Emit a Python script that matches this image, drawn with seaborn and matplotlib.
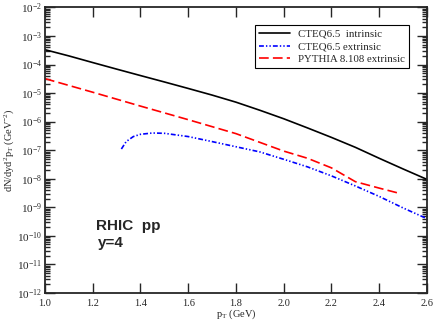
import matplotlib
matplotlib.use("Agg")
import matplotlib.pyplot as plt
import seaborn as sns
from matplotlib.ticker import LogLocator, NullLocator, FixedLocator, FormatStrFormatter

# values
pt_int = [1.0, 1.1, 1.2, 1.3, 1.4, 1.5, 1.6, 1.7, 1.8, 1.9, 2.0, 2.1, 2.2, 2.3, 2.4, 2.5, 2.6]
cteq_int = [3.3e-4, 2.0e-4, 1.17e-4, 6.9e-5, 4.1e-5, 2.45e-5, 1.45e-5, 8.5e-6, 4.8e-6,
            2.5e-6, 1.26e-6, 6.0e-7, 2.8e-7, 1.26e-7, 5.2e-8, 2.2e-8, 9.5e-9]

pt_ext = [1.32, 1.34, 1.37, 1.40, 1.45, 1.50, 1.60, 1.70, 1.80, 1.90, 2.00, 2.10, 2.20,
          2.30, 2.40, 2.50, 2.60]
cteq_ext = [1.1e-7, 2.0e-7, 3.0e-7, 3.6e-7, 4.0e-7, 3.9e-7, 3.0e-7, 2.0e-7, 1.32e-7,
            8.7e-8, 4.8e-8, 2.6e-8, 1.26e-8, 5.6e-9, 2.4e-9, 9.5e-10, 4.0e-10]

pt_py = [1.0, 1.2, 1.4, 1.6, 1.8, 2.0, 2.1, 2.2, 2.3, 2.4, 2.49]
pythia = [3.2e-5, 1.07e-5, 3.5e-6, 1.17e-6, 3.8e-7, 9.3e-8, 5.2e-8, 2.4e-8, 7.9e-9, 4.7e-9, 3.0e-9]

labels = ["CTEQ6.5  intrinsic", "CTEQ6.5 extrinsic", "PYTHIA 8.108 extrinsic"]
xticks = [1.0, 1.2, 1.4, 1.6, 1.8, 2.0, 2.2, 2.4, 2.6]

sns.set_style("ticks")
plt.rcParams["font.family"] = ["Liberation Serif", "DejaVu Serif"]
plt.rcParams["mathtext.fontset"] = "custom"
plt.rcParams["mathtext.rm"] = "Liberation Serif"
plt.rcParams["mathtext.it"] = "Liberation Serif:italic"
plt.rcParams["lines.scale_dashes"] = False

fig, ax = plt.subplots(figsize=(4.35, 3.21), dpi=100)
fig.subplots_adjust(left=0.1034, right=0.9816, bottom=0.0872, top=0.977)

sns.lineplot(x=pt_int, y=cteq_int, color="black", linewidth=1.2, ax=ax, label=labels[0])
sns.lineplot(x=pt_ext, y=cteq_ext, color="blue", linewidth=1.2, ax=ax, label=labels[1],
             linestyle=(0, (3.5, 1.5, 1, 1.5, 1, 1.5)))
sns.lineplot(x=pt_py, y=pythia, color="red", linewidth=1.2, ax=ax, label=labels[2],
             linestyle=(0, (7, 3)))

ax.set_yscale("log")
ax.set_xlim(1.0, 2.6)
ax.set_ylim(1e-12, 1e-2)
ax.xaxis.set_major_locator(FixedLocator(xticks))
ax.xaxis.set_major_formatter(FormatStrFormatter("%.1f"))
ax.xaxis.set_minor_locator(NullLocator())
ax.yaxis.set_major_locator(LogLocator(base=10, numticks=20))
ax.yaxis.set_minor_locator(LogLocator(base=10, subs=range(2, 10), numticks=20))

ax.tick_params(which="both", direction="in", top=True, right=True, width=1.0)
ax.tick_params(which="major", length=7)
ax.tick_params(which="minor", length=3.5)
ax.tick_params(axis="x", labelsize=7.5, pad=4)
ax.tick_params(axis="y", labelsize=8, pad=2)
for sp in ax.spines.values():
    sp.set_linewidth(1.3)

ax.set_xlabel(r"p$_\mathrm{T}$ (GeV)", fontsize=7.5, labelpad=0)
ax.set_ylabel(r"dN/dyd$^2$p$_\mathrm{T}$ (GeV$^{-2}$)", fontsize=7.5, labelpad=1)

leg = ax.legend(loc="upper left", bbox_to_anchor=(0.55, 0.938), borderaxespad=0,
                fontsize=7.8, handlelength=2.9, handletextpad=0.7, borderpad=0.35,
                labelspacing=0.3, fancybox=False, framealpha=1)
leg.get_frame().set_edgecolor("black")
leg.get_frame().set_linewidth(0.8)

ax.text(0.1335, 0.2205, "RHIC  pp", transform=ax.transAxes, fontsize=11,
        fontweight="bold", family="Liberation Sans", va="baseline")
ax.text(0.139, 0.161, "y=4", transform=ax.transAxes, fontsize=11,
        fontweight="bold", family="Liberation Sans", va="baseline")

fig.savefig("out.png", dpi=100)
